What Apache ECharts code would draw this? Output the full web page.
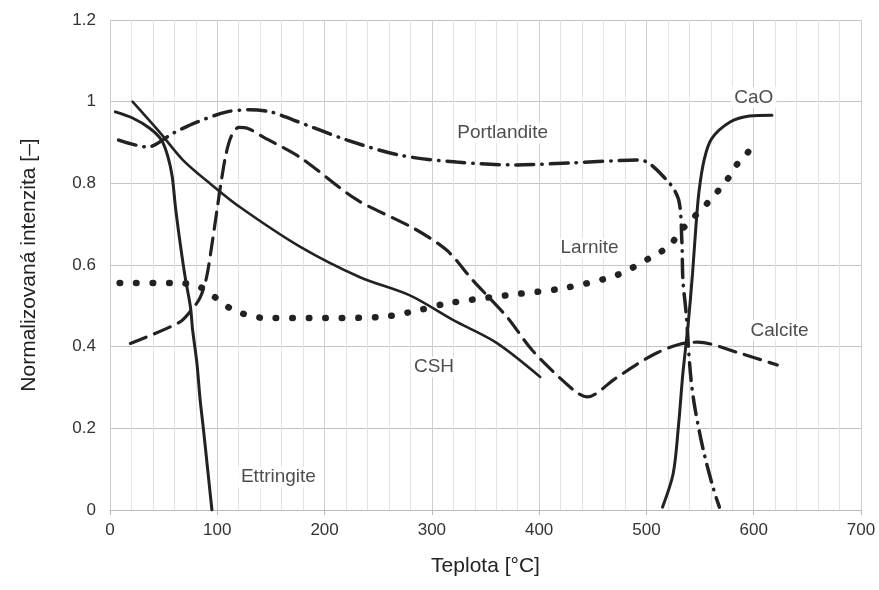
<!DOCTYPE html>
<html>
<head>
<meta charset="utf-8">
<script src="https://cdn.jsdelivr.net/npm/echarts@6/dist/echarts.min.js"></script>
<style>
  html, body { margin: 0; padding: 0; background: #fff; }
  #chart { width: 879px; height: 590px; }
</style>
</head>
<body>
<div id="chart"></div>
<script>
// curves: [temperature, normalised intensity]
var ettringite = [[5, 0.975], [21, 0.96], [37, 0.935], [48, 0.906], [54, 0.865], [58, 0.816],
  [61, 0.742], [65, 0.661], [70, 0.571], [75, 0.497], [77, 0.441], [81, 0.36], [84, 0.27],
  [87, 0.20], [91, 0.10], [95, 0]];
var csh = [[21, 1.0], [47, 0.923], [68, 0.857], [93, 0.80], [121, 0.742], [177, 0.645],
  [233, 0.57], [280, 0.525], [320, 0.465], [360, 0.41], [401, 0.326]];
var portlandite = [[8, 0.906], [35, 0.889], [59, 0.923], [81, 0.95], [109, 0.975], [130, 0.98],
  [150, 0.975], [171, 0.955], [221, 0.906], [270, 0.869], [323, 0.852], [379, 0.845],
  [429, 0.85], [494, 0.857], [519, 0.808], [530, 0.76], [533, 0.66], [534, 0.563],
  [537, 0.482], [541, 0.335], [545, 0.253], [553, 0.147], [562, 0.056], [568, 0.007]];
var larnite = [[9, 0.556], [62, 0.556], [84, 0.546], [115, 0.49], [146, 0.47], [200, 0.47],
  [254, 0.473], [289, 0.49], [314, 0.506], [370, 0.526], [422, 0.543], [472, 0.575],
  [505, 0.62], [522, 0.648], [530, 0.678], [539, 0.703], [557, 0.752], [575, 0.808],
  [584, 0.845], [594, 0.874], [600, 0.898]];
var calcite = [[19, 0.408], [65, 0.46], [76, 0.49], [84, 0.52], [90, 0.57], [95, 0.65],
  [100, 0.74], [104, 0.81], [108, 0.87], [113, 0.915], [120, 0.937], [128, 0.935],
  [143, 0.913], [177, 0.864], [230, 0.76], [283, 0.69], [314, 0.636], [338, 0.563],
  [370, 0.473], [394, 0.39], [432, 0.294], [445, 0.277], [470, 0.32], [490, 0.355],
  [510, 0.385], [531, 0.406], [548, 0.411], [587, 0.384], [622, 0.355]];
var cao = [[515, 0.007], [525, 0.09], [530, 0.21], [534, 0.335], [539, 0.458], [543, 0.58],
  [546, 0.69], [549, 0.78], [554, 0.86], [561, 0.91], [578, 0.95], [596, 0.965], [617, 0.967]];

var curveLabels = [
  { name: 'Portlandite', value: [366, 0.923] },
  { name: 'Larnite', value: [447, 0.641] },
  { name: 'CSH', value: [302, 0.35] },
  { name: 'Ettringite', value: [157, 0.081] },
  { name: 'CaO', value: [600, 1.01] },
  { name: 'Calcite', value: [624, 0.44] }
];

var ink = '#222';
function curve(name, data, style) {
  return {
    name: name, type: 'line', data: data, smooth: 0.3, symbol: 'none',
    lineStyle: Object.assign({ color: ink, width: 3, cap: 'round' }, style)
  };
}

var chart = echarts.init(document.getElementById('chart'));
chart.setOption({
  animation: false,
  grid: { left: 110, right: 18, top: 20, bottom: 80 },
  xAxis: {
    type: 'value', min: 0, max: 700, interval: 100,
    name: 'Teplota [°C]', nameLocation: 'middle', nameGap: 46,
    nameTextStyle: { fontFamily: 'Liberation Sans', fontSize: 21, color: '#222' },
    axisLine: { lineStyle: { color: '#bbb' } },
    axisTick: { show: true, length: 5, lineStyle: { color: '#bbb' } },
    axisLabel: { fontFamily: 'Liberation Sans', fontSize: 17, color: '#333', margin: 12 },
    splitLine: { lineStyle: { color: '#cfcfcf' } },
    minorTick: { show: false, splitNumber: 5 },
    minorSplitLine: { show: true, lineStyle: { color: '#e2e2e2' } }
  },
  yAxis: {
    type: 'value', min: 0, max: 1.2, interval: 0.2,
    name: 'Normalizovaná intenzita [–]', nameLocation: 'middle', nameGap: 70,
    nameTextStyle: { fontFamily: 'Liberation Sans', fontSize: 21, color: '#222' },
    axisLine: { show: true, lineStyle: { color: '#ccc' } },
    axisTick: { show: false },
    axisLabel: { fontFamily: 'Liberation Sans', fontSize: 17, color: '#333', margin: 14 },
    splitLine: { lineStyle: { color: '#c4c4c4' } }
  },
  series: [
    curve('Ettringite', ettringite, { type: 'solid' }),
    curve('CSH', csh, { type: 'solid', width: 2.6 }),
    curve('Portlandite', portlandite, { type: [18, 8, 0.5, 8], width: 3.5 }),
    curve('Larnite', larnite, { type: [0.5, 16], width: 6.5 }),
    curve('Calcite', calcite, { type: [17, 9], width: 3.2 }),
    curve('CaO', cao, { type: 'solid' }),
    {
      type: 'scatter', data: curveLabels, symbolSize: 0, silent: true, z: 5,
      label: {
        show: true, position: 'inside', formatter: '{b}',
        fontFamily: 'Liberation Sans', fontSize: 19, color: '#222',
        backgroundColor: '#fff', padding: [1, 3]
      }
    }
  ]
});
</script>
</body>
</html>
